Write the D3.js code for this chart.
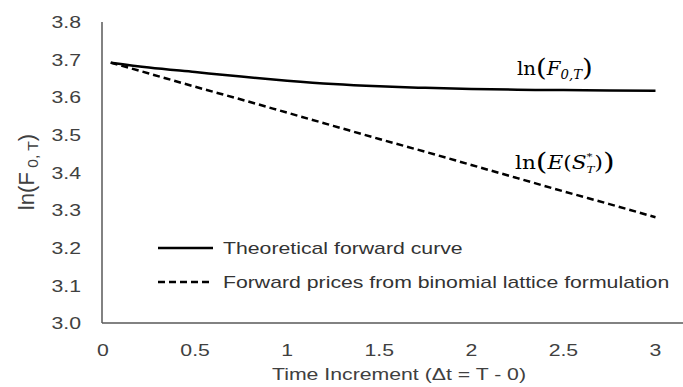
<!DOCTYPE html>
<html>
<head>
<meta charset="utf-8">
<script src="https://cdn.jsdelivr.net/npm/d3@7"></script>
<style>
  body { margin: 0; background: #fff; }
  svg { display: block; font-family: "Liberation Sans", Arial, sans-serif; }
</style>
</head>
<body>
<script>
// data
const times = [0.042, 0.25, 0.5, 0.75, 1, 1.25, 1.5, 1.75, 2, 2.25, 2.5, 2.75, 3];
const theoretical = [3.692, 3.679, 3.667, 3.655, 3.644, 3.635, 3.629, 3.625, 3.622, 3.620, 3.619, 3.618, 3.617];
const binomial = [3.692, 3.663, 3.628, 3.594, 3.559, 3.524, 3.489, 3.455, 3.420, 3.385, 3.350, 3.316, 3.281];
const xTicks = [0, 0.5, 1, 1.5, 2, 2.5, 3];
const yTicks = [3.0, 3.1, 3.2, 3.3, 3.4, 3.5, 3.6, 3.7, 3.8];
const legendLabels = ["Theoretical forward curve", "Forward prices from binomial lattice formulation"];

const width = 683, height = 387,
      plotLeft = 102, plotTop = 22, plotBottom = 323,
      stretch = 1.25; // the picture is wider than its glyphs

const svg = d3.select("body")
              .append("svg")
              .attr("width", width)
              .attr("height", height);

const xScale = d3.scaleLinear()
                 .domain([0, 3])
                 .range([plotLeft + 1, 655.5]),
      yScale = d3.scaleLinear()
                 .domain([3.0, 3.8])
                 .range([plotBottom, plotTop]);

// stretched text placed at x,y
const label = (sel, x, y, sx) => sel.attr("transform", "translate(" + x + "," + y + ") scale(" + (sx || stretch) + ",1)");

// axes lines (no tick marks)
svg.append("line")
   .attr("x1", plotLeft).attr("x2", plotLeft)
   .attr("y1", plotTop).attr("y2", plotBottom)
   .attr("stroke", "#595959").attr("stroke-width", 1.5);
svg.append("line")
   .attr("x1", plotLeft).attr("x2", width)
   .attr("y1", plotBottom).attr("y2", plotBottom)
   .attr("stroke", "#595959").attr("stroke-width", 1.5);

// tick labels
svg.selectAll(".ytick")
   .data(yTicks)
   .enter()
   .append("text")
   .attr("class", "ytick")
   .attr("transform", d => "translate(81," + yScale(d) + ") scale(" + stretch + ",1)")
   .attr("dy", "0.36em")
   .attr("text-anchor", "end")
   .attr("font-size", 17)
   .attr("fill", "#404040")
   .text(d => d.toFixed(1));

svg.selectAll(".xtick")
   .data(xTicks)
   .enter()
   .append("text")
   .attr("class", "xtick")
   .attr("transform", d => "translate(" + xScale(d) + ",356) scale(" + stretch + ",1)")
   .attr("text-anchor", "middle")
   .attr("font-size", 17)
   .attr("fill", "#404040")
   .text(d => d);

// axis titles
svg.append("text")
   .call(label, 399, 380)
   .attr("text-anchor", "middle")
   .attr("font-size", 17)
   .attr("fill", "#404040")
   .text("Time Increment (\u0394t = T - 0)");

const yTitle = svg.append("text")
   .attr("transform", "translate(34,172) rotate(-90) scale(1.3," + stretch + ")")
   .attr("text-anchor", "middle")
   .attr("font-size", 17)
   .attr("fill", "#404040");
yTitle.append("tspan").text("ln(F");
yTitle.append("tspan").attr("font-size", 12).attr("dy", 3).text(" 0, T");
yTitle.append("tspan").attr("dy", -3).text(")");

// series lines
const points = vals => times.map((t, i) => [t, vals[i]]);
const line = d3.line()
               .x(d => xScale(d[0]))
               .y(d => yScale(d[1]))
               .curve(d3.curveMonotoneX);

svg.append("path")
   .attr("d", line(points(theoretical)))
   .attr("fill", "none")
   .attr("stroke", "#000")
   .attr("stroke-width", 2.5);

svg.append("path")
   .attr("d", line(points(binomial)))
   .attr("fill", "none")
   .attr("stroke", "#000")
   .attr("stroke-width", 2.5)
   .attr("stroke-dasharray", "7,4");

// legend
const legend = svg.selectAll(".legend")
                  .data(legendLabels)
                  .enter()
                  .append("g")
                  .attr("class", "legend")
                  .attr("transform", (d, i) => "translate(158," + (248 + i * 34) + ")");
legend.append("line")
      .attr("x1", 0).attr("x2", 55)
      .attr("stroke", "#000")
      .attr("stroke-width", 2.5)
      .attr("stroke-dasharray", (d, i) => i ? "7,4" : null);
legend.append("text")
      .call(label, 65, 0)
      .attr("dy", "0.36em")
      .attr("font-size", 17)
      .attr("fill", "#333")
      .text(d => d);

// math labels on the curves
const math = "'Cambria Math', 'DejaVu Serif', 'Liberation Serif', serif";
const lab1 = svg.append("text")
                .call(label, 517, 75, 1.1)
                .attr("font-family", math)
                .attr("font-size", 18)
                .attr("fill", "#000");
lab1.append("tspan").text("ln");
lab1.append("tspan").attr("font-size", 25).attr("dy", 1).text("(");
lab1.append("tspan").attr("font-style", "italic").attr("dy", -1).text("F");
lab1.append("tspan").attr("font-style", "italic").attr("font-size", 12).attr("dy", 4).text("0,T");
lab1.append("tspan").attr("font-size", 25).attr("dy", -3).text(")");

const lab2 = svg.append("text")
                .call(label, 515, 169, 1.2)
                .attr("font-family", math)
                .attr("font-size", 18)
                .attr("fill", "#000");
lab2.append("tspan").text("ln");
lab2.append("tspan").attr("font-size", 25).attr("dy", 1).text("(");
lab2.append("tspan").attr("font-style", "italic").attr("dy", -1).text("E");
lab2.append("tspan").text("(");
lab2.append("tspan").attr("font-style", "italic").text("S");
lab2.append("tspan").attr("font-style", "italic").attr("font-size", 10).attr("dy", -9).text("*");
lab2.append("tspan").attr("font-style", "italic").attr("font-size", 10).attr("dx", -5).attr("dy", 13).text("T");
lab2.append("tspan").attr("dy", -4).text(")");
lab2.append("tspan").attr("font-size", 25).attr("dy", 1).text(")");
</script>
</body>
</html>
